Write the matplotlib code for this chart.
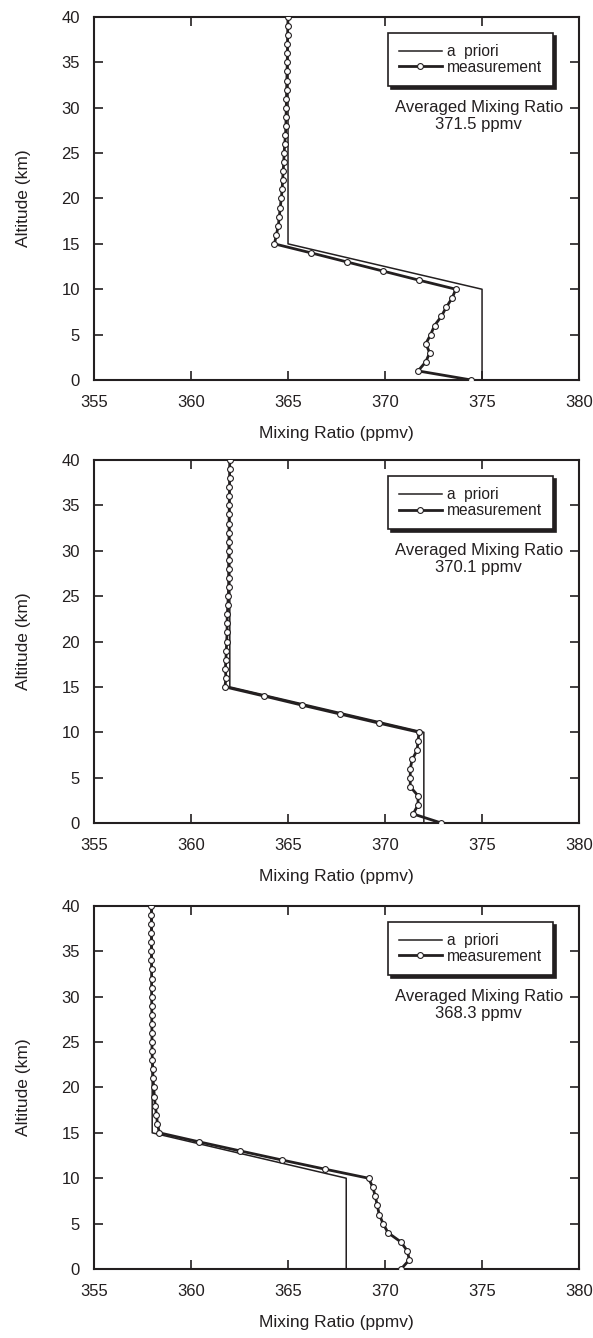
import matplotlib
matplotlib.use('Agg')
import matplotlib.pyplot as plt

plt.rcParams['font.family'] = ['Liberation Sans', 'DejaVu Sans']

INK = '#231f20'

altitude = [0, 1, 2, 3, 4, 5, 6, 7, 8, 9, 10, 11, 12, 13, 14, 15, 16, 17, 18, 19, 20,
            21, 22, 23, 24, 25, 26, 27, 28, 29, 30, 31, 32, 33, 34, 35, 36, 37, 38, 39, 40]

# a priori profiles, given at their break points
apriori_alt = [0, 10, 15, 40]
apriori_1 = [375, 375, 365, 365]
apriori_2 = [372, 372, 362, 362]
apriori_3 = [368, 368, 358, 358]

# retrieved profiles, one value per km
meas_1 = [374.45, 371.7, 372.1, 372.3, 372.1, 372.35, 372.55, 372.9, 373.15, 373.45,
          373.65, 371.75, 369.9, 368.05, 366.2, 364.3, 364.4, 364.5, 364.55, 364.6,
          364.65, 364.7, 364.72, 364.75, 364.78, 364.8, 364.83, 364.87, 364.89, 364.9,
          364.91, 364.92, 364.93, 364.94, 364.95, 364.96, 364.97, 364.97, 364.98, 364.99,
          365.0]
meas_2 = [372.9, 371.45, 371.7, 371.7, 371.3, 371.3, 371.3, 371.4, 371.65, 371.7,
          371.75, 369.7, 367.7, 365.7, 363.75, 361.75, 361.8, 361.77, 361.8, 361.82,
          361.84, 361.86, 361.86, 361.87, 361.9, 361.92, 361.94, 361.94, 361.94, 361.94,
          361.95, 361.95, 361.96, 361.96, 361.97, 361.97, 361.98, 361.98, 361.99, 361.99,
          362.0]
meas_3 = [370.83, 371.25, 371.15, 370.8, 370.15, 369.9, 369.7, 369.6, 369.5, 369.37,
          369.15, 366.9, 364.7, 362.55, 360.43, 358.37, 358.27, 358.22, 358.16, 358.11,
          358.08, 358.04, 358.03, 358.01, 357.99, 357.99, 357.99, 357.98, 357.98, 357.98,
          357.97, 357.97, 357.97, 357.97, 357.96, 357.96, 357.96, 357.96, 357.96, 357.96,
          357.96]

averages = ['371.5', '370.1', '368.3']

xticks = [355, 360, 365, 370, 375, 380]
yticks = [0, 5, 10, 15, 20, 25, 30, 35, 40]

fig = plt.figure(figsize=(5.93, 13.38), dpi=100)

# panel bottoms in figure fraction (top, middle, bottom)
bottoms = [0.716, 0.3849, 0.0516]
left, width, height = 0.1585, 0.818, 0.2713

panels = [(apriori_1, meas_1), (apriori_2, meas_2), (apriori_3, meas_3)]

for i, (ap, meas) in enumerate(panels):
    ax = fig.add_axes([left, bottoms[i], width, height])

    ax.plot(ap, apriori_alt, color=INK, lw=1.1, label='a  priori', zorder=2)
    ax.plot(meas, altitude, color=INK, lw=2.0, marker='o', ms=4.2,
            mfc='white', mec=INK, mew=0.8, label='measurement', zorder=3)

    ax.set_xlim(355, 380)
    ax.set_ylim(0, 40)
    ax.set_xticks(xticks)
    ax.set_yticks(yticks)
    ax.tick_params(direction='in', top=True, right=True, length=6.3, width=1.2,
                   color=INK, labelsize=12, labelcolor=INK)
    ax.tick_params(axis='x', pad=11)
    ax.tick_params(axis='y', pad=10)
    for sp in ax.spines.values():
        sp.set_linewidth(1.5)
        sp.set_color(INK)

    ax.set_xlabel('Mixing Ratio (ppmv)', fontsize=12.5, color=INK, labelpad=11)
    ax.set_ylabel('Altitude (km)', fontsize=12.5, color=INK, labelpad=22)

    leg = ax.legend(loc='upper right', bbox_to_anchor=(0.946, 0.956), borderaxespad=0,
                    fontsize=11.2, handlelength=2.75, handletextpad=0.3, labelspacing=0.05,
                    borderpad=0.72, numpoints=1, fancybox=False,
                    shadow={'color': INK, 'alpha': 1})
    leg.get_frame().set_edgecolor(INK)
    leg.get_frame().set_linewidth(1.2)
    leg.get_frame().set_alpha(1)
    for t in leg.get_texts():
        t.set_color(INK)

    ax.text(0.793, 0.727, 'Averaged Mixing Ratio\n' + averages[i] + ' ppmv',
            transform=ax.transAxes, ha='center', va='center', fontsize=12,
            color=INK, linespacing=1.15)

fig.savefig('out.png', dpi=100)
